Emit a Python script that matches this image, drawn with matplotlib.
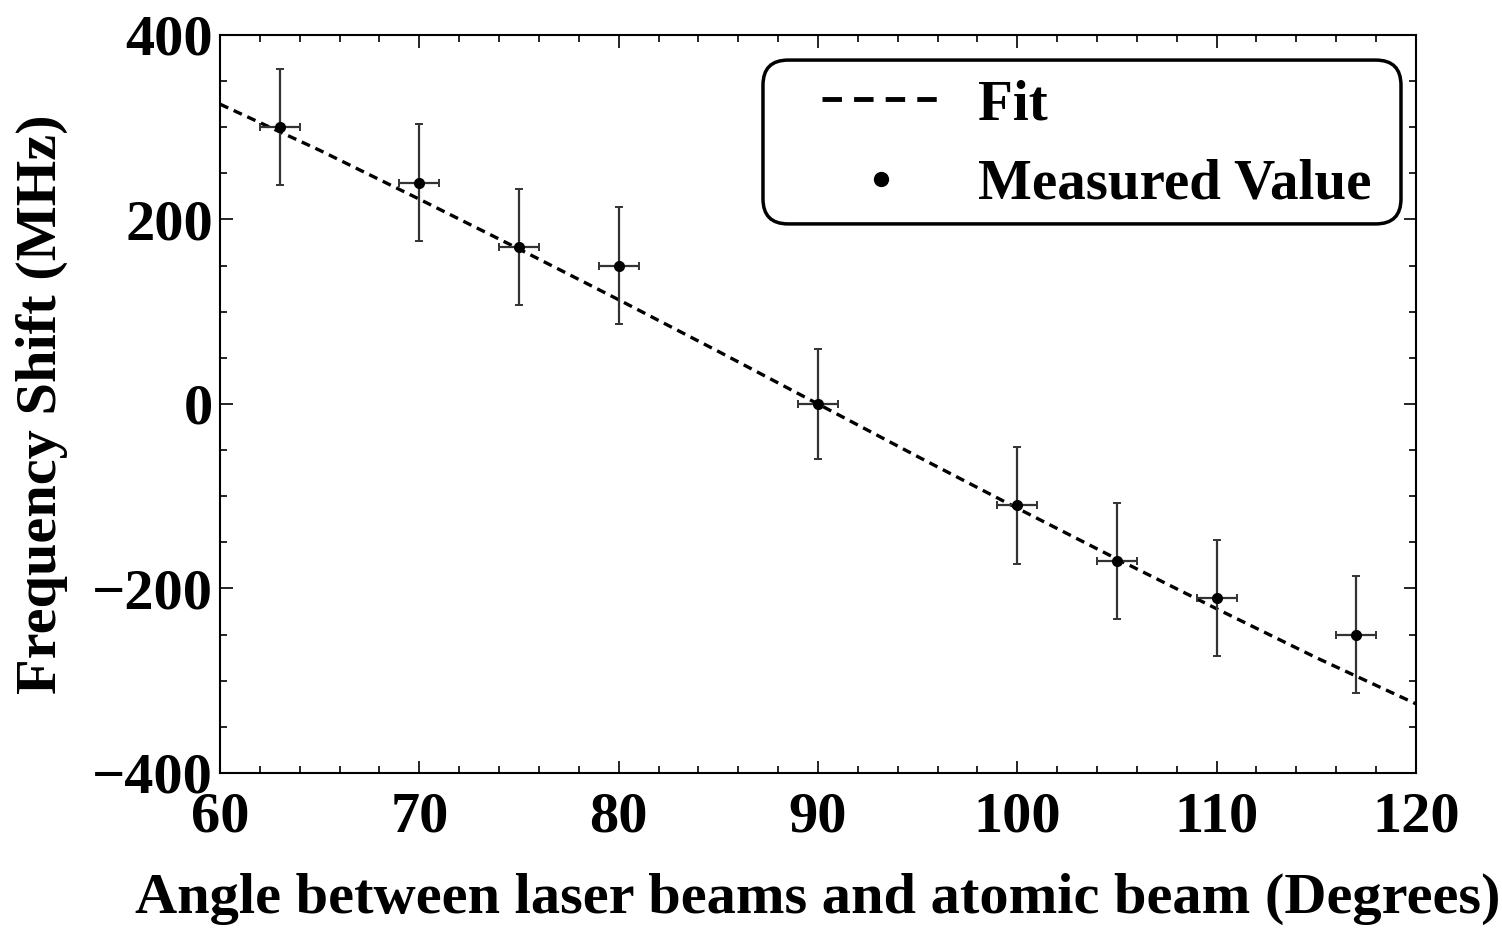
import numpy as np
import matplotlib
matplotlib.use('Agg')
import matplotlib.pyplot as plt
from matplotlib.lines import Line2D
from matplotlib.patches import FancyBboxPatch

angle = [63, 70, 75, 80, 90, 100, 105, 110, 117]
shift = [300, 240, 170, 150, 0, -110, -170, -210, -250]
angle_err = [1, 1, 1, 1, 1, 1, 1, 1, 1]
shift_err = [63, 63, 63, 63, 60, 63, 63, 63, 63]

# Fit curve, read every 5 degrees
fit_angle = [60, 65, 70, 75, 80, 85, 90, 95, 100, 105, 110, 115, 120]
fit_shift = [325, 275, 222, 168, 113, 57, 0, -57, -113, -168, -222, -275, -325]

x_ticks = [60, 70, 80, 90, 100, 110, 120]
y_ticks = [-400, -200, 0, 200, 400]

plt.rcParams['font.family'] = ['Liberation Serif', 'DejaVu Serif']
plt.rcParams['font.weight'] = 'bold'

fig = plt.figure(figsize=(15.02, 9.33), dpi=100)
ax = fig.add_axes([0.1465, 0.1715, 0.7962, 0.791])

ax.plot(fit_angle, fit_shift, color='black', lw=2.4, dashes=(2.7, 1.8))
ax.errorbar(angle, shift, xerr=angle_err, yerr=shift_err, fmt='o', color='black',
            ms=7, ecolor='#333333', elinewidth=1.6, capsize=3, capthick=1.4)

ax.set_xlim(60, 120)
ax.set_ylim(-400, 400)
ax.set_xticks(x_ticks)
ax.set_yticks(y_ticks)
ax.set_xticks(np.arange(60, 121, 2), minor=True)
ax.set_yticks(np.arange(-400, 401, 50), minor=True)
ax.tick_params(which='both', direction='in', top=True, right=True, width=1.2, labelsize=42)
ax.tick_params(which='major', length=9)
ax.tick_params(which='minor', length=5)
ax.tick_params(axis='x', pad=13)
ax.tick_params(axis='y', pad=5)
for s in ax.spines.values():
    s.set_linewidth(1.5)

ax.set_xlabel('Angle between laser beams and atomic beam (Degrees)', fontsize=42, fontweight='bold')
ax.set_ylabel('Frequency Shift (MHz)', fontsize=42, fontweight='bold')
ax.xaxis.set_label_coords(0.5, -0.135)
ax.yaxis.set_label_coords(-0.127, 0.5)

# legend frame drawn separately so the padding can match
frame = FancyBboxPatch((0.454, 0.744), 0.5335, 0.222, transform=ax.transAxes,
                       boxstyle='round,pad=0,rounding_size=0.021', mutation_aspect=1196 / 738,
                       facecolor='white', edgecolor='black', lw=2.5, zorder=4)
ax.add_patch(frame)

fit_handle = Line2D([], [], color='black', lw=3.5, dashes=(4, 2.5))
pt_handle = Line2D([], [], color='black', marker='o', ls='none', ms=10)
leg = ax.legend([fit_handle, pt_handle], ['Fit', 'Measured Value'], loc='upper left',
                bbox_to_anchor=(0.503, 0.94), borderaxespad=0, borderpad=0, fontsize=41,
                handlelength=2.1, handletextpad=0.65, labelspacing=0.48, frameon=False)
leg.set_zorder(5)

fig.savefig('out.png', dpi=100)
